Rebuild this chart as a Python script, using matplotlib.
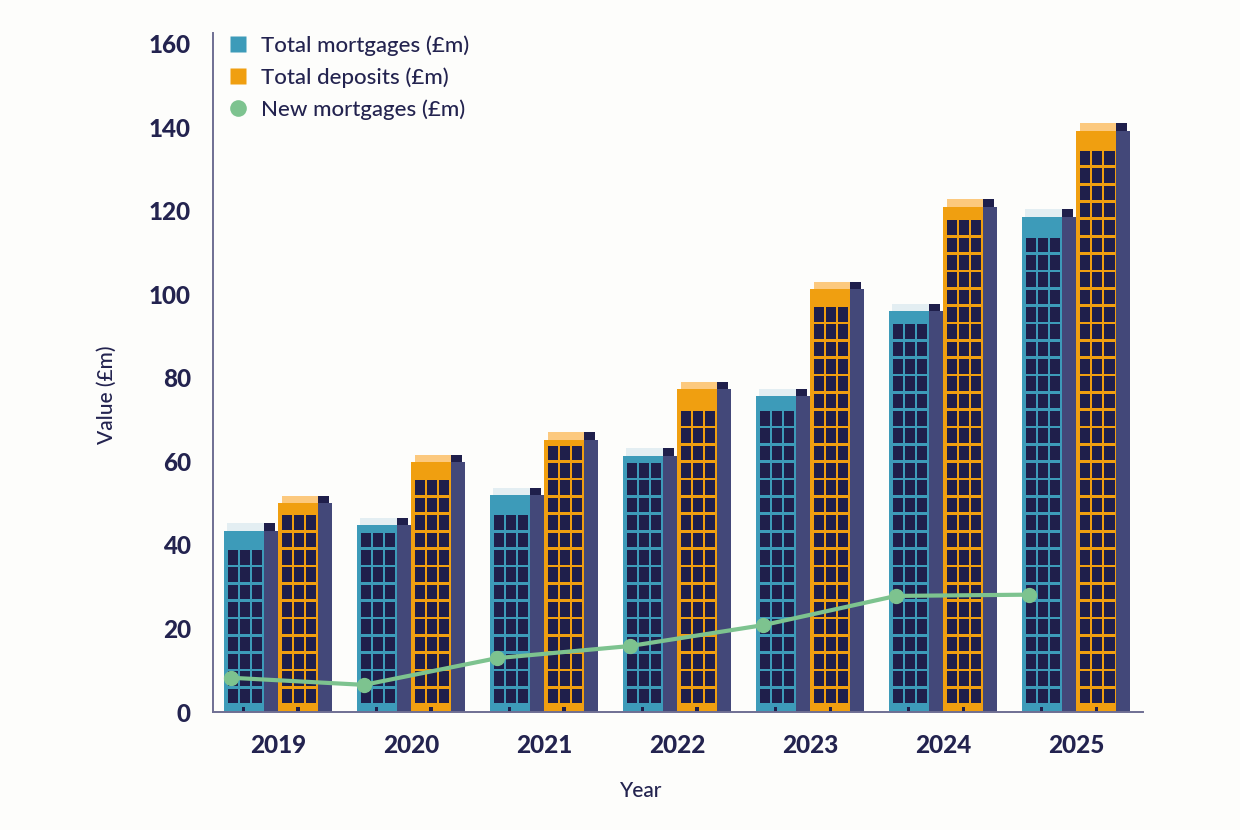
import matplotlib
matplotlib.use("Agg")
import matplotlib.pyplot as plt
from matplotlib.patches import Rectangle
from matplotlib.lines import Line2D
import numpy as np

years = ["2019", "2020", "2021", "2022", "2023", "2024", "2025"]
total_mortgages = [43.4, 44.8, 52.0, 61.4, 75.7, 96.0, 118.6]
total_deposits = [50.0, 59.8, 65.2, 77.3, 101.2, 121.0, 139.2]
new_mortgages = [8.2, 6.5, 12.9, 15.8, 20.8, 27.8, 28.1]
y_ticks = [0, 20, 40, 60, 80, 100, 120, 140, 160]

TEAL = "#3d9bb9"
ORANGE = "#f09f10"
SIDE = "#434879"
DARK = "#1f1f4b"
TEAL_CAP = "#e3eef2"
ORANGE_CAP = "#fcc97e"
GREEN = "#7dc38f"
TEXT = "#23234f"
SPINE = "#6f6f93"
BG = "#fdfdfb"

plt.rcParams['font.family'] = ['Lato', 'DejaVu Sans']

fig = plt.figure(figsize=(12.4, 8.3), dpi=100, facecolor=BG)
ax = fig.add_axes([213/1240, 118/830, 930/1240, 679/830])
ax.set_facecolor(BG)
ax.set_xlim(-0.49, 6.5)
ax.set_ylim(0, 162.6)

x = np.arange(len(years))

# geometry (data units)
FRONT_W = 0.301
CAP_H = 1.75
WIN_W = 0.076
WIN_GAP = 0.015
WIN_MARGIN = 0.030
WIN_H = 3.5
ROW_STEP = 4.155
ROW_BASE = 2.08
TOP_MARGIN = 1.2


def building(ax, left, value, front_color, cap_color, side_w):
    # cap on front
    ax.add_patch(Rectangle((left + 0.027, value - 0.2), FRONT_W - 0.027, CAP_H + 0.2,
                           facecolor=cap_color, edgecolor='none', zorder=2))
    # dark cap on side
    ax.add_patch(Rectangle((left + FRONT_W, value - 0.4), side_w * 0.74, CAP_H + 0.4,
                           facecolor=DARK, edgecolor='none', zorder=2))
    # front and side
    ax.bar(left, value, width=FRONT_W, align='edge', color=front_color, zorder=3)
    ax.bar(left + FRONT_W, value, width=side_w, align='edge', color=SIDE, zorder=3)
    # windows
    k = 0
    while ROW_BASE + k * ROW_STEP + WIN_H <= value - TOP_MARGIN:
        y0 = ROW_BASE + k * ROW_STEP
        for c in range(3):
            wx = left + WIN_MARGIN + c * (WIN_W + WIN_GAP)
            ax.add_patch(Rectangle((wx, y0), WIN_W, WIN_H, facecolor=DARK,
                                   edgecolor='none', zorder=4))
        k += 1
    # door
    ax.add_patch(Rectangle((left + FRONT_W / 2 - 0.012, 0), 0.024, 1.1,
                           facecolor=DARK, edgecolor='none', zorder=4))


for i in range(len(years)):
    building(ax, x[i] - 0.411, total_mortgages[i], TEAL, TEAL_CAP, 0.113)
    building(ax, x[i] - 0.002, total_deposits[i], ORANGE, ORANGE_CAP, 0.107)

ax.plot(x - 0.355, new_mortgages, color=GREEN, lw=3.0, marker='o', markersize=10,
        zorder=6, solid_capstyle='round')

# axes styling
for s in ['top', 'right']:
    ax.spines[s].set_visible(False)
for s in ['left', 'bottom']:
    ax.spines[s].set_color(SPINE)
    ax.spines[s].set_linewidth(1.4)
    ax.spines[s].set_zorder(7)

ax.set_yticks(y_ticks)
ax.set_yticklabels([str(t) for t in y_ticks], fontsize=17.5, fontweight='black', color=TEXT)
ax.set_xticks(x)
ax.set_xticklabels(years, fontsize=17.5, fontweight='black', color=TEXT)
ax.tick_params(axis='y', length=0, pad=16)
ax.tick_params(axis='x', length=0, pad=16)

ax.set_ylabel("Value (£m)", fontsize=15, fontweight='medium', color=TEXT)
ax.yaxis.set_label_coords(-0.103, 0.467)
ax.set_xlabel("Year", fontsize=15, fontweight='medium', color=TEXT)
ax.xaxis.set_label_coords(0.46, -0.102)

handles = [
    Line2D([], [], marker='s', color='none', markerfacecolor=TEAL, markeredgecolor='none',
           markersize=12, label="Total mortgages (£m)"),
    Line2D([], [], marker='s', color='none', markerfacecolor=ORANGE, markeredgecolor='none',
           markersize=12, label="Total deposits (£m)"),
    Line2D([], [], marker='o', color='none', markerfacecolor=GREEN, markeredgecolor='none',
           markersize=12, label="New mortgages (£m)"),
]
leg = ax.legend(handles=handles, loc='upper left', bbox_to_anchor=(-0.002, 1.02),
                frameon=False, handlelength=1.0, handletextpad=0.55,
                labelspacing=0.53, borderaxespad=0.3,
                prop={'size': 16, 'weight': 'medium'})
for t in leg.get_texts():
    t.set_color(TEXT)

fig.savefig("out.png", dpi=100, facecolor=BG)
